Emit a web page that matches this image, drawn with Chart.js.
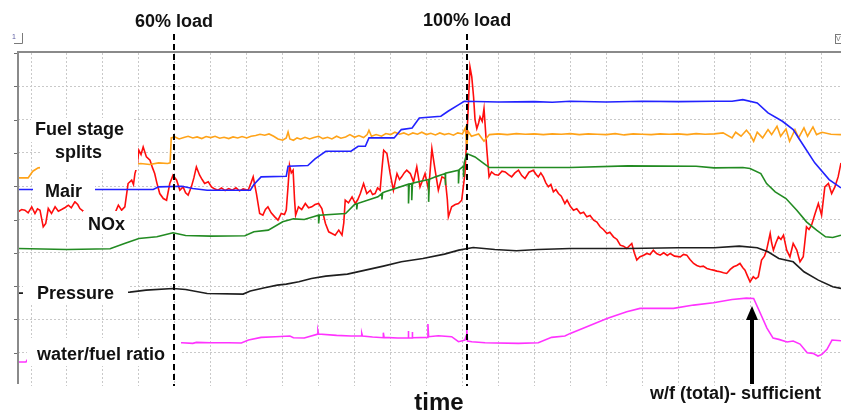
<!DOCTYPE html>
<html>
<head>
<meta charset="utf-8">
<script src="https://cdn.jsdelivr.net/npm/chart.js@4.4.1/dist/chart.umd.min.js"></script>
<style>
  html, body { margin: 0; padding: 0; background: #fff; }
  canvas { display: block; }
</style>
</head>
<body>
<canvas id="trend" width="841" height="414"></canvas>
<script>
// Trend recorder screenshot - time axis in grid divisions, values in grid divisions
const xGridTicks = [0, 1, 2, 3, 4, 5, 6, 7, 8, 9, 10, 11, 12, 13, 14, 15, 16, 17, 18, 19, 20, 21, 22];
const yGridTicks = [1, 2, 3, 4, 5, 6, 7, 8, 9];
const X_MIN = -0.362;
const X_MAX = 22.53;

const LOAD_60 = 3.98;
const LOAD_100 = 12.13;
const ARROW_AT = 20.06;

// [time, value] pairs
const splitsTrace = [
    [-0.36, 6.25], [-0.08, 6.25], [0.05, 6.45], [0.2, 6.55], [0.5, 6.58], [1.8, 6.6], [2.9, 6.66], [3.05, 6.68],
    [3.3, 6.65], [3.55, 6.7], [3.8, 6.68], [3.87, 6.7], [3.9, 7.45], [4.0, 7.48], [4.12, 7.42], [4.25, 7.46],
    [4.37, 7.5], [4.5, 7.45], [4.62, 7.48], [4.75, 7.43], [4.87, 7.49], [5.0, 7.46], [5.12, 7.5], [5.25, 7.44],
    [5.37, 7.47], [5.5, 7.43], [5.62, 7.48], [5.75, 7.45], [5.87, 7.49], [6.0, 7.45], [6.12, 7.5], [6.25, 7.52],
    [6.37, 7.56], [6.5, 7.53], [6.62, 7.57], [6.75, 7.5], [6.87, 7.42], [7.0, 7.38], [7.1, 7.45], [7.15, 7.63],
    [7.2, 7.42], [7.3, 7.38], [7.4, 7.45], [7.5, 7.41], [7.62, 7.47], [7.75, 7.42], [7.87, 7.46], [8.0, 7.5],
    [8.12, 7.43], [8.25, 7.47], [8.37, 7.42], [8.5, 7.5], [8.62, 7.44], [8.75, 7.48], [8.87, 7.55], [9.0, 7.47],
    [9.12, 7.52], [9.25, 7.46], [9.35, 7.55], [9.4, 7.68], [9.47, 7.5], [9.6, 7.55], [9.75, 7.5], [9.87, 7.58],
    [10.0, 7.55], [10.12, 7.62], [10.25, 7.56], [10.37, 7.6], [10.5, 7.54], [10.62, 7.6], [10.75, 7.56], [10.87, 7.62],
    [11.0, 7.55], [11.12, 7.59], [11.25, 7.54], [11.37, 7.6], [11.5, 7.55], [11.62, 7.58], [11.75, 7.53], [11.87, 7.6],
    [12.0, 7.57], [12.08, 7.75], [12.12, 7.2], [12.16, 7.65], [12.25, 7.5], [12.45, 7.57], [12.6, 7.35], [12.75, 7.55],
    [13.0, 7.57], [13.25, 7.55], [13.5, 7.58], [13.75, 7.56], [14.0, 7.57], [14.25, 7.55], [14.5, 7.57], [14.75, 7.56],
    [15.0, 7.58], [15.25, 7.55], [15.5, 7.57], [15.75, 7.56], [16.0, 7.55], [16.25, 7.58], [16.5, 7.54], [16.75, 7.57],
    [17.0, 7.56], [17.25, 7.55], [17.5, 7.57], [17.75, 7.56], [18.0, 7.57], [18.25, 7.55], [18.5, 7.58], [18.75, 7.56],
    [19.0, 7.57], [19.25, 7.6], [19.5, 7.45], [19.6, 7.62], [19.75, 7.5], [19.9, 7.68], [20.0, 7.55], [20.1, 7.35],
    [20.2, 7.62], [20.35, 7.45], [20.5, 7.7], [20.6, 7.55], [20.75, 7.8], [20.85, 7.5], [21.0, 7.72], [21.1, 7.35],
    [21.25, 7.7], [21.35, 7.45], [21.5, 7.75], [21.6, 7.5], [21.75, 7.78], [21.85, 7.55], [22.0, 7.62], [22.25, 7.56],
    [22.53, 7.55]
];

const mairTrace = [
    [-0.36, 5.9], [0.3, 5.9], [2.0, 5.9], [3.4, 5.9], [3.55, 5.98], [4.2, 6.0], [4.5, 5.93], [4.9, 5.88],
    [6.1, 5.88], [6.2, 6.05], [6.4, 6.28], [7.1, 6.3], [7.15, 6.6], [7.7, 6.62], [7.9, 6.82], [8.2, 7.05],
    [8.9, 7.05], [9.1, 7.2], [9.3, 7.2], [9.4, 7.45], [10.1, 7.45], [10.3, 7.7], [10.6, 7.75], [10.8, 8.05],
    [11.4, 8.1], [11.6, 8.25], [11.9, 8.45], [12.05, 8.55], [13.0, 8.53], [14.0, 8.54], [14.5, 8.52], [15.0, 8.55],
    [16.0, 8.53], [17.0, 8.55], [18.0, 8.54], [19.0, 8.55], [19.5, 8.55], [19.8, 8.6], [20.2, 8.5], [20.5, 8.2],
    [20.9, 7.95], [21.2, 7.7], [21.5, 7.2], [21.8, 6.7], [22.2, 6.2], [22.53, 5.95]
];

const noxTrace = [
    [-0.36, 5.23], [-0.26, 5.3], [-0.17, 5.28], [-0.08, 5.2], [0.02, 5.38], [0.11, 5.18], [0.18, 5.32], [0.25, 5.28],
    [0.34, 4.78], [0.41, 4.88], [0.48, 5.33], [0.57, 5.18], [0.67, 5.38], [0.76, 5.25], [0.85, 5.3], [0.95, 5.36],
    [1.04, 5.43], [1.12, 5.35], [1.22, 5.53], [1.3, 5.45], [1.36, 5.33], [1.45, 5.25], [1.6, 5.05], [2.0, 5.0],
    [2.3, 5.1], [2.43, 5.43], [2.52, 5.28], [2.61, 5.38], [2.7, 6.08], [2.8, 6.18], [2.85, 6.05], [2.89, 6.38],
    [2.95, 6.6], [3.0, 7.08], [3.06, 6.95], [3.12, 7.18], [3.21, 6.88], [3.31, 6.78], [3.38, 6.55], [3.44, 6.38],
    [3.5, 6.1], [3.58, 5.78], [3.68, 5.63], [3.77, 5.58], [3.86, 6.08], [3.95, 6.33], [4.05, 6.18], [4.14, 5.88],
    [4.23, 5.98], [4.3, 5.8], [4.37, 5.73], [4.46, 5.98], [4.53, 6.25], [4.6, 6.58], [4.69, 6.33], [4.76, 6.2],
    [4.83, 6.08], [4.93, 6.13], [5.02, 5.98], [5.1, 5.92], [5.2, 5.88], [5.3, 5.95], [5.4, 5.87], [5.5, 5.93],
    [5.6, 5.88], [5.7, 5.95], [5.8, 5.86], [5.9, 5.92], [6.04, 5.88], [6.12, 6.1], [6.18, 6.28], [6.27, 5.78],
    [6.36, 5.18], [6.45, 5.13], [6.52, 5.3], [6.59, 5.38], [6.68, 5.2], [6.78, 5.08], [6.87, 4.98], [6.96, 5.18],
    [7.05, 5.15], [7.1, 5.28], [7.15, 6.0], [7.19, 6.63], [7.24, 6.4], [7.29, 6.48], [7.33, 5.6], [7.36, 5.13],
    [7.44, 5.38], [7.53, 5.3], [7.63, 5.48], [7.72, 5.35], [7.81, 5.38], [7.9, 5.45], [8.0, 5.48], [8.09, 5.33],
    [8.19, 4.88], [8.28, 4.63], [8.37, 4.58], [8.46, 4.53], [8.56, 4.68], [8.65, 4.53], [8.7, 4.9], [8.74, 5.58],
    [8.83, 5.5], [8.93, 5.68], [9.02, 5.48], [9.09, 5.6], [9.16, 5.78], [9.25, 6.08], [9.34, 5.78], [9.44, 5.88],
    [9.5, 5.75], [9.57, 5.78], [9.64, 5.95], [9.71, 5.88], [9.76, 6.5], [9.81, 7.08], [9.9, 6.98], [9.99, 6.38],
    [10.08, 5.88], [10.18, 6.38], [10.25, 6.2], [10.31, 6.28], [10.38, 6.4], [10.45, 6.48], [10.55, 6.38], [10.64, 6.13],
    [10.73, 6.58], [10.82, 5.98], [10.9, 6.2], [10.96, 6.38], [11.06, 5.88], [11.15, 7.13], [11.24, 6.48], [11.33, 5.88],
    [11.43, 6.28], [11.52, 6.23], [11.58, 5.6], [11.61, 5.08], [11.7, 5.38], [11.8, 5.45], [11.89, 5.48], [11.98, 5.58],
    [12.07, 6.38], [12.15, 8.08], [12.21, 9.58], [12.26, 9.28], [12.31, 8.68], [12.35, 8.0], [12.4, 7.73], [12.45, 7.9],
    [12.49, 8.08], [12.55, 7.95], [12.6, 8.33], [12.68, 7.08], [12.74, 6.28], [12.81, 6.43], [12.9, 6.35], [13.0, 6.33],
    [13.1, 6.45], [13.19, 6.43], [13.28, 6.35], [13.37, 6.28], [13.46, 6.4], [13.56, 6.48], [13.65, 6.32], [13.74, 6.23],
    [13.85, 6.42], [13.97, 6.48], [14.05, 6.35], [14.11, 6.28], [14.18, 6.4], [14.25, 6.28], [14.32, 6.1], [14.39, 5.98],
    [14.46, 6.05], [14.53, 5.83], [14.6, 5.9], [14.67, 5.78], [14.75, 5.7], [14.85, 5.48], [14.91, 5.58], [15.0, 5.4],
    [15.09, 5.28], [15.18, 5.32], [15.28, 5.18], [15.37, 5.22], [15.46, 5.08], [15.55, 5.12], [15.65, 4.98], [15.74, 4.92],
    [15.83, 4.78], [15.92, 4.7], [16.02, 4.58], [16.1, 4.62], [16.2, 4.48], [16.3, 4.4], [16.39, 4.23], [16.48, 4.2],
    [16.57, 4.13], [16.71, 4.28], [16.78, 4.0], [16.85, 3.78], [16.94, 3.88], [17.03, 3.92], [17.13, 3.98], [17.22, 3.95],
    [17.31, 4.08], [17.4, 3.98], [17.5, 3.93], [17.6, 4.0], [17.7, 3.92], [17.78, 3.98], [17.9, 3.9], [18.06, 3.88],
    [18.15, 3.95], [18.24, 3.93], [18.33, 3.8], [18.43, 3.68], [18.52, 3.62], [18.61, 3.58], [18.7, 3.6], [18.8, 3.53],
    [18.9, 3.5], [18.98, 3.48], [19.08, 3.45], [19.17, 3.43], [19.26, 3.4], [19.35, 3.38], [19.45, 3.5], [19.54, 3.58],
    [19.63, 3.62], [19.72, 3.68], [19.8, 3.55], [19.86, 3.48], [19.93, 3.3], [20.0, 3.13], [20.09, 3.28], [20.16, 3.22],
    [20.23, 3.28], [20.32, 3.78], [20.4, 3.9], [20.46, 4.08], [20.56, 4.58], [20.6, 4.3], [20.65, 4.08], [20.72, 4.3],
    [20.79, 4.48], [20.86, 4.4], [20.93, 4.53], [21.02, 4.08], [21.11, 3.88], [21.2, 4.28], [21.3, 4.08], [21.39, 3.73],
    [21.48, 3.88], [21.57, 4.78], [21.64, 4.7], [21.71, 4.83], [21.81, 5.18], [21.9, 5.48], [21.99, 5.13], [22.08, 5.98],
    [22.18, 6.08], [22.27, 5.78], [22.36, 5.98], [22.45, 6.28], [22.53, 6.7]
];

const greenTrace = [
    [-0.36, 4.13], [1.0, 4.1], [2.2, 4.12], [2.6, 4.28], [3.0, 4.43], [3.5, 4.48], [3.95, 4.6], [4.3, 4.52],
    [5.0, 4.5], [5.95, 4.51], [6.2, 4.63], [6.6, 4.68], [7.0, 4.93], [7.3, 5.02], [7.6, 5.0], [7.9, 5.1],
    [8.0, 5.13], [8.0, 4.88], [8.02, 5.13], [8.75, 5.18], [9.0, 5.45], [9.06, 5.47], [9.06, 5.3], [9.08, 5.48],
    [9.65, 5.68], [9.76, 5.78], [9.76, 5.6], [9.78, 5.8], [9.85, 5.83], [10.5, 6.06], [10.5, 5.48], [10.52, 6.06],
    [10.59, 6.08], [10.59, 5.58], [10.61, 6.09], [11.06, 6.2], [11.06, 5.53], [11.08, 6.21], [11.25, 6.28], [11.52, 6.38],
    [11.52, 6.03], [11.54, 6.39], [11.89, 6.48], [11.89, 6.08], [11.91, 6.5], [12.03, 6.6], [12.03, 6.28], [12.05, 6.7],
    [12.12, 6.98], [12.35, 6.88], [12.6, 6.68], [12.75, 6.56], [15.0, 6.56], [16.6, 6.61], [18.5, 6.6], [19.0, 6.55],
    [19.8, 6.56], [20.0, 6.53], [20.3, 6.38], [20.46, 6.08], [20.7, 5.83], [21.0, 5.63], [21.3, 5.28], [21.57, 4.93],
    [21.85, 4.68], [22.1, 4.48], [22.3, 4.46], [22.53, 4.53]
];

const pressureTrace = [
    [-0.36, 2.79], [1.0, 2.8], [2.75, 2.82], [3.2, 2.88], [3.95, 2.93], [4.3, 2.9], [4.9, 2.78], [5.9, 2.76],
    [6.1, 2.85], [6.5, 2.95], [6.85, 3.03], [7.1, 3.06], [7.45, 3.13], [7.8, 3.23], [8.2, 3.3], [8.8, 3.36],
    [9.3, 3.48], [9.8, 3.6], [10.3, 3.73], [10.9, 3.83], [11.5, 3.96], [11.9, 4.08], [12.3, 4.16], [12.9, 4.1],
    [13.5, 4.06], [14.1, 4.1], [15.0, 4.13], [16.6, 4.13], [18.0, 4.15], [19.0, 4.15], [19.7, 4.2], [20.2, 4.15],
    [20.5, 4.03], [20.8, 3.83], [21.2, 3.73], [21.5, 3.43], [21.9, 3.18], [22.3, 2.98], [22.53, 2.93]
];

const ratioTrace = [
    [-0.36, 0.72], [-0.14, 0.72], [0.2, 1.3], [4.2, 1.3], [4.5, 1.28], [4.6, 1.31], [5.0, 1.3], [5.5, 1.3],
    [5.85, 1.29], [6.05, 1.38], [6.4, 1.46], [6.8, 1.48], [7.2, 1.5], [7.3, 1.45], [7.6, 1.44], [7.98, 1.56],
    [7.98, 1.66], [8.0, 1.56], [8.5, 1.52], [8.9, 1.5], [9.2, 1.5], [9.2, 1.58], [9.22, 1.5], [9.5, 1.47],
    [9.8, 1.45], [9.8, 1.6], [9.82, 1.46], [10.2, 1.44], [10.49, 1.45], [10.49, 1.65], [10.51, 1.45], [10.6, 1.44],
    [10.6, 1.62], [10.62, 1.45], [11.04, 1.46], [11.04, 1.86], [11.06, 1.48], [11.33, 1.51], [11.7, 1.48], [11.89, 1.33],
    [12.0, 1.36], [12.07, 1.38], [12.1, 1.5], [12.12, 1.73], [12.14, 1.35], [12.26, 1.33], [12.63, 1.3], [13.56, 1.28],
    [14.11, 1.3], [14.48, 1.46], [14.85, 1.5], [15.0, 1.58], [15.46, 1.78], [16.02, 2.03], [16.57, 2.23], [16.94, 2.33],
    [17.87, 2.33], [18.43, 2.43], [18.98, 2.5], [19.5, 2.6], [19.9, 2.64], [20.1, 2.63], [20.28, 2.2], [20.47, 1.74],
    [20.64, 1.44], [20.8, 1.4], [21.03, 1.32], [21.2, 1.35], [21.39, 1.26], [21.59, 1.0], [21.75, 0.98], [21.89, 0.9],
    [22.0, 0.95], [22.14, 1.1], [22.28, 1.38], [22.53, 1.36]
];

// white boxes behind the channel labels (left, top, right, bottom)
const labelBoxes = [
    [31, 118, 134, 142],
    [40, 142, 138, 170],
    [33, 179, 95, 201],
    [83, 211, 131, 234],
    [23, 281, 128, 304],
    [27, 338, 181, 366]
];

const channelLabels = [
    ['Fuel stage', 35, 135],
    ['splits', 55, 158],
    ['Mair', 45, 197],
    ['NOx', 88, 230],
    ['Pressure', 37, 299],
    ['water/fuel ratio', 37, 360]
];

const FONT = '"Liberation Sans", Arial, sans-serif';

function toPoints(trace) {
    return trace.map(p => ({ x: p[0], y: p[1] }));
}

const overlay = {
    id: 'overlay',
    afterDatasetsDraw(chart) {
        const { ctx, chartArea: area, scales } = chart;
        const xs = scales.x, ys = scales.y;
        ctx.save();

        // boxes that cut the traces behind the labels
        ctx.fillStyle = '#ffffff';
        labelBoxes.forEach(([l, t, r, b]) => ctx.fillRect(l, t, r - l, b - t));

        // frame: top border + left axis
        ctx.strokeStyle = '#8a8a8a';
        ctx.lineWidth = 2;
        ctx.beginPath();
        ctx.moveTo(area.left - 1, area.top - 1);
        ctx.lineTo(area.right, area.top - 1);
        ctx.moveTo(area.left, area.top - 1);
        ctx.lineTo(area.left, area.bottom - 2);
        ctx.stroke();

        ctx.lineWidth = 1;
        ctx.strokeStyle = '#6e6e6e';
        ctx.beginPath();
        for (let v = 1; v <= 10; v++) {
            const py = Math.round(ys.getPixelForValue(v)) + 0.5;
            ctx.moveTo(area.left - 4, py);
            ctx.lineTo(area.left - 1, py);
        }
        ctx.stroke();

        // small corner markers of the recorder window
        ctx.strokeStyle = '#7a7a7a';
        ctx.beginPath();
        ctx.moveTo(14, 43.5);
        ctx.lineTo(22.5, 43.5);
        ctx.lineTo(22.5, 33);
        ctx.stroke();
        ctx.fillStyle = '#5a5aa0';
        ctx.font = '7px ' + FONT;
        ctx.fillText('1', 12, 39);
        ctx.strokeRect(835.5, 34.5, 8, 9);
        ctx.fillStyle = '#777';
        ctx.fillText('V', 836, 41);

        // channel labels
        ctx.fillStyle = '#111111';
        ctx.font = 'bold 18px ' + FONT;
        ctx.textAlign = 'left';
        ctx.textBaseline = 'alphabetic';
        channelLabels.forEach(([txt, lx, ly]) => ctx.fillText(txt, lx, ly));

        // load markers
        ctx.strokeStyle = '#000000';
        ctx.lineWidth = 2;
        ctx.setLineDash([6, 4]);
        [LOAD_60, LOAD_100].forEach(v => {
            const px = Math.round(xs.getPixelForValue(v));
            ctx.beginPath();
            ctx.moveTo(px, 34);
            ctx.lineTo(px, area.bottom);
            ctx.stroke();
        });
        ctx.setLineDash([]);

        ctx.textAlign = 'center';
        ctx.fillText('60% load', xs.getPixelForValue(LOAD_60), 27);
        ctx.fillText('100% load', xs.getPixelForValue(LOAD_100), 26);

        // arrow to the w/f peak
        const ax = Math.round(xs.getPixelForValue(ARROW_AT));
        ctx.fillStyle = '#000000';
        ctx.fillRect(ax - 2, 318, 4, 66);
        ctx.beginPath();
        ctx.moveTo(ax - 6, 320);
        ctx.lineTo(ax + 6, 320);
        ctx.lineTo(ax, 306);
        ctx.closePath();
        ctx.fill();

        ctx.fillStyle = '#111111';
        ctx.textAlign = 'left';
        ctx.fillText('w/f (total)- sufficient', 650, 399);

        ctx.textAlign = 'center';
        ctx.font = 'bold 24px ' + FONT;
        ctx.fillText('time', 439, 410);

        ctx.restore();
    }
};

const ctx = document.getElementById('trend').getContext('2d');

const lineStyle = (label, color, trace) => ({
    label: label,
    data: toPoints(trace),
    borderColor: color,
    backgroundColor: color,
    borderWidth: 1.6,
    pointRadius: 0,
    tension: 0,
    fill: false
});

new Chart(ctx, {
    type: 'line',
    data: {
        datasets: [
            lineStyle('water/fuel ratio', '#ff33ff', ratioTrace),
            lineStyle('Pressure', '#1e1e1e', pressureTrace),
            lineStyle('green trace', '#228b22', greenTrace),
            lineStyle('Mair', '#2222ff', mairTrace),
            lineStyle('Fuel stage splits', '#ffa319', splitsTrace),
            lineStyle('NOx', '#ff0d0d', noxTrace)
        ]
    },
    options: {
        responsive: false,
        animation: false,
        devicePixelRatio: 1,
        layout: { padding: { left: 18, top: 53, right: 0, bottom: 28 } },
        plugins: {
            legend: { display: false },
            tooltip: { enabled: false }
        },
        scales: {
            x: {
                type: 'linear',
                min: X_MIN,
                max: X_MAX,
                afterBuildTicks: s => { s.ticks = xGridTicks.map(v => ({ value: v })); },
                afterFit: s => { s.height = 0; },
                ticks: { display: false },
                grid: { color: '#c9c9c9', lineWidth: 1, drawTicks: false },
                border: { display: false, dash: [2, 2] }
            },
            y: {
                type: 'linear',
                min: 0,
                max: 10,
                afterBuildTicks: s => { s.ticks = yGridTicks.map(v => ({ value: v })); },
                afterFit: s => { s.width = 0; },
                ticks: { display: false },
                grid: { color: '#c9c9c9', lineWidth: 1, drawTicks: false },
                border: { display: false, dash: [2, 2] }
            }
        }
    },
    plugins: [overlay]
});
</script>
</body>
</html>
